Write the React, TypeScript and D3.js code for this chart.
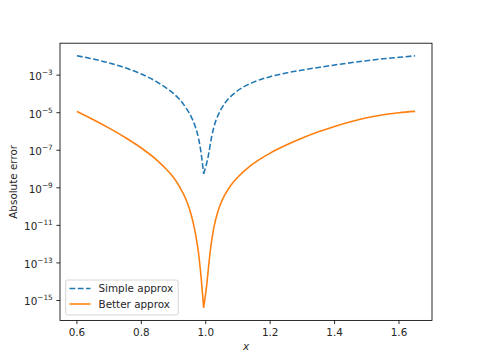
import React from "react";
import * as d3 from "d3";

// Data
const xSimple = [0.6, 0.65, 0.7, 0.75, 0.8, 0.85, 0.88, 0.9, 0.92, 0.94, 0.955, 0.967, 0.978, 0.986, 0.9935, 1.008, 1.018, 1.029, 1.045, 1.06, 1.09, 1.12, 1.15, 1.2, 1.25, 1.3, 1.35, 1.4, 1.45, 1.5, 1.55, 1.6, 1.65];
const simpleErr = [1.072e-2, 7.24e-3, 4.47e-3, 2.45e-3, 1.148e-3, 4.17e-4, 1.905e-4, 1.047e-4, 4.79e-5, 1.66e-5, 6.03e-6, 1.905e-6, 3.98e-7, 6.31e-8, 5.5e-9, 5.01e-8, 5.01e-7, 2.82e-6, 1.26e-5, 3.31e-5, 1.122e-4, 2.51e-4, 4.37e-4, 8.32e-4, 1.318e-3, 1.862e-3, 2.57e-3, 3.47e-3, 4.57e-3, 5.89e-3, 7.41e-3, 8.91e-3, 1.072e-2];

const xBetter = [0.6, 0.65, 0.7, 0.75, 0.8, 0.85, 0.88, 0.9, 0.92, 0.94, 0.955, 0.967, 0.977, 0.985, 0.9935, 1.0035, 1.0115, 1.018, 1.026, 1.035, 1.045, 1.06, 1.08, 1.1, 1.13, 1.16, 1.2, 1.25, 1.3, 1.35, 1.4, 1.45, 1.5, 1.55, 1.6, 1.65];
const betterErr = [1.175e-5, 4.37e-6, 1.514e-6, 4.79e-7, 1.318e-7, 2.82e-8, 8.91e-9, 3.55e-9, 1.047e-9, 2.09e-10, 3.55e-11, 4.47e-12, 3.98e-13, 2.24e-14, 4.07e-16, 7.94e-15, 1.778e-13, 1.413e-12, 8.91e-12, 3.8e-11, 1.259e-10, 4.47e-10, 1.514e-9, 3.8e-9, 1.122e-8, 2.69e-8, 7.08e-8, 1.905e-7, 4.47e-7, 9.55e-7, 1.862e-6, 3.31e-6, 5.37e-6, 7.76e-6, 1.0e-5, 1.175e-5];

const xTicks = [0.6, 0.8, 1.0, 1.2, 1.4, 1.6];
const yTickExps = [-3, -5, -7, -9, -11, -13, -15];
const seriesNames = ["Simple approx", "Better approx"];

const W = 480, H = 360;
const L = 60, R = 432, T = 43.2, B = 320.4;
const FONT = "'DejaVu Sans', sans-serif";
const FS = 10.4;

export default function App() {
  const allX = [...xSimple, ...xBetter];
  const xMin = d3.min(allX)!, xMax = d3.max(allX)!;
  const xPad = (xMax - xMin) * 0.05;
  const x = d3.scaleLinear().domain([xMin - xPad, xMax + xPad]).range([L, R]);

  const allY = [...simpleErr, ...betterErr].map(Math.log10);
  const lMin = d3.min(allY)!, lMax = d3.max(allY)!;
  const lPad = (lMax - lMin) * 0.05;
  const y = d3.scaleLog().domain([Math.pow(10, lMin - lPad), Math.pow(10, lMax + lPad)]).range([B, T]);

  const line = d3.line<[number, number]>().x(d => x(d[0])).y(d => y(d[1])).curve(d3.curveMonotoneX);
  const branchPath = (xs: number[], ys: number[]) => {
    const pts = xs.map((v, i) => [v, ys[i]] as [number, number]);
    const iMin = d3.minIndex(ys);
    return line(pts.slice(0, iMin + 1))! + line(pts.slice(iMin))!;
  };
  const simplePath = branchPath(xSimple, simpleErr);
  const betterPath = branchPath(xBetter, betterErr);

  const tickLen = 3.65;
  const lw = 1.56;

  return (
    <svg width={W} height={H} style={{ position: "absolute", left: 0, top: 0 }} fontFamily={FONT}>
      <rect x={0} y={0} width={W} height={H} fill="white" />
      <defs>
        <clipPath id="plotclip">
          <rect x={L} y={T} width={R - L} height={B - T} />
        </clipPath>
      </defs>
      <g clipPath="url(#plotclip)">
        <path d={simplePath} fill="none" stroke="#1f77b4" strokeWidth={lw} strokeDasharray="5.78,2.5" />
        <path d={betterPath} fill="none" stroke="#ff7f0e" strokeWidth={lw} />
      </g>
      {/* spines */}
      <rect x={L} y={T} width={R - L} height={B - T} fill="none" stroke="black" strokeWidth={0.83} />
      {/* x ticks */}
      {xTicks.map(t => (
        <g key={t}>
          <line x1={x(t)} x2={x(t)} y1={B} y2={B + tickLen} stroke="black" strokeWidth={0.83} />
          <text x={x(t)} y={B + tickLen + 3.6 + 8} fontSize={FS} textAnchor="middle" fill="#262626">{t.toFixed(1)}</text>
        </g>
      ))}
      {/* y ticks */}
      {yTickExps.map(e => (
        <g key={e}>
          <line x1={L - tickLen} x2={L} y1={y(Math.pow(10, e))} y2={y(Math.pow(10, e))} stroke="black" strokeWidth={0.83} />
          <text x={L - tickLen - 3.6} y={y(Math.pow(10, e)) + 5} fontSize={FS} textAnchor="end" fill="#262626">
            10<tspan fontSize={7.3} dy={-5}>{"\u2212" + Math.abs(e)}</tspan>
          </text>
        </g>
      ))}
      {/* axis labels */}
      <text x={(L + R) / 2} y={350} fontSize={FS} textAnchor="middle" fontStyle="italic" fill="#262626">x</text>
      <text transform={`translate(17,${(T + B) / 2}) rotate(-90)`} fontSize={FS} textAnchor="middle" fill="#262626">Absolute error</text>
      {/* legend */}
      <g>
        <rect x={65.7} y={280} width={112.5} height={35} rx={2} fill="white" fillOpacity={0.8} stroke="#cccccc" strokeWidth={0.83} />
        <line x1={69.5} x2={90.5} y1={288.5} y2={288.5} stroke="#1f77b4" strokeWidth={lw} strokeDasharray="5.78,2.5" />
        <text x={98.5} y={292.3} fontSize={FS} fill="#262626">{seriesNames[0]}</text>
        <line x1={69.5} x2={90.5} y1={304} y2={304} stroke="#ff7f0e" strokeWidth={lw} />
        <text x={98.5} y={307.8} fontSize={FS} fill="#262626">{seriesNames[1]}</text>
      </g>
    </svg>
  );
}
